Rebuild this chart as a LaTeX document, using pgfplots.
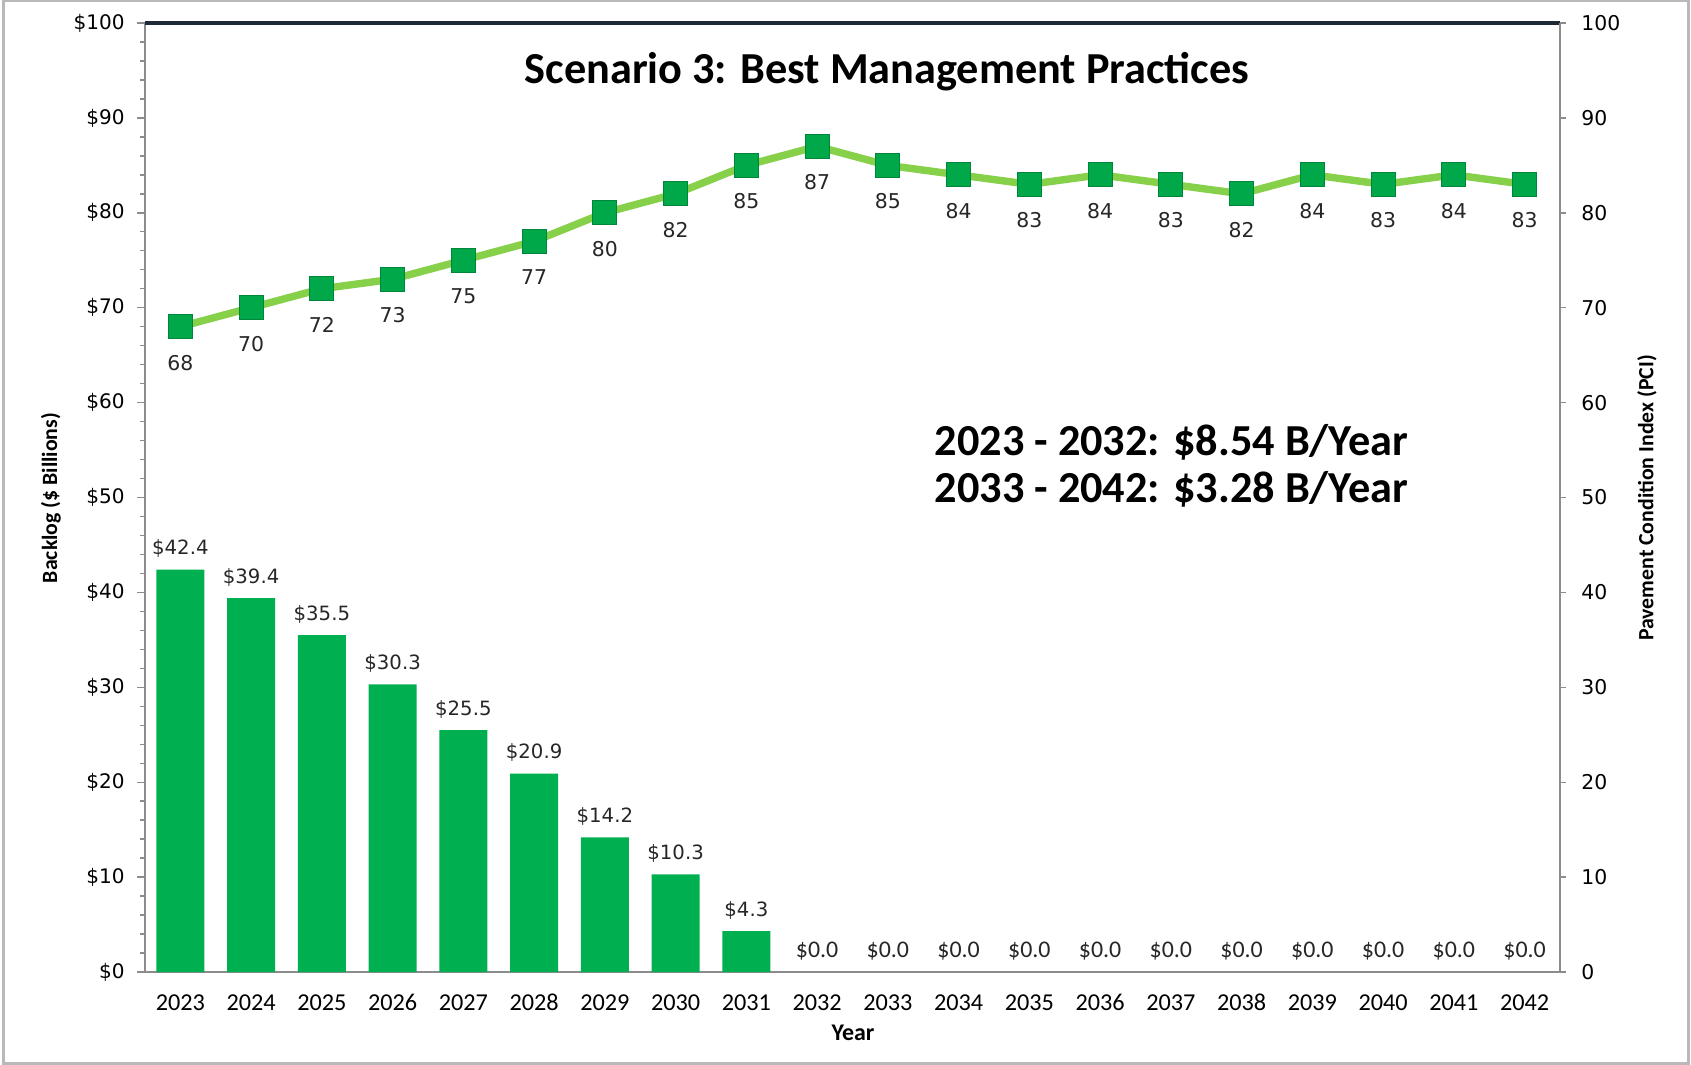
\documentclass[border=0pt]{standalone}
\usepackage{fontspec}
\setmainfont{Carlito}
\newfontfamily\dvs{DejaVu Sans}
\usepackage{pgfplots}
\pgfplotsset{compat=1.18}
\definecolor{bargreen}{HTML}{00B050}
\definecolor{markgreen}{HTML}{00A84A}
\definecolor{linegreen}{HTML}{86D04A}
\definecolor{axgray}{HTML}{8C8C8C}
\definecolor{topline}{HTML}{1E2A36}
\begin{document}
\begin{tikzpicture}
\path[use as bounding box] (0,0) rectangle (169.1mm,-106.5mm);
\draw[gray!55, line width=0.6pt] (0.35mm,-0.1mm) rectangle (168.85mm,-106.35mm);

% Backlog bars (left axis)
\begin{axis}[
  at={(14.5mm,-97.2mm)}, anchor=south west,
  scale only axis, width=141.5mm, height=94.9mm,
  xmin=-0.5, xmax=19.5, ymin=0, ymax=100,
  axis x line*=bottom, axis y line*=left,
  axis line style={draw=axgray, line width=0.6pt, -},
  xtick={0,...,19},
  xticklabels={2023,2024,2025,2026,2027,2028,2029,2030,2031,2032,2033,2034,2035,2036,2037,2038,2039,2040,2041,2042},
  x tick style={draw=none},
  xticklabel style={font=\fontsize{6.9pt}{7pt}\selectfont, text height=4.6pt, text depth=0pt, yshift=-0.15mm},
  ytick={0,10,...,100}, minor ytick={0,2,...,100},
  tick align=outside,
  major tick length=0.8mm, minor tick length=0.5mm,
  y tick style={draw=axgray, line width=0.4pt},
  yticklabel={\$\pgfmathprintnumber{\tick}},
  yticklabel style={font=\fontsize{5.7pt}{6pt}\selectfont\dvs, xshift=0mm},
  /pgf/number format/assume math mode=true,
  clip=false,
]
\addplot[ybar, bar width=0.68, fill=bargreen, draw=none,
  nodes near coords={\$\pgfmathprintnumber[fixed,fixed zerofill,precision=1]{\pgfplotspointmeta}},
  every node near coord/.style={font=\fontsize{5.6pt}{6pt}\selectfont\dvs, text=black!85, anchor=center, yshift=2.1mm}]
coordinates {(0,42.4) (1,39.4) (2,35.5) (3,30.3) (4,25.5) (5,20.9) (6,14.2) (7,10.3) (8,4.3)};
\addplot[draw=none, mark=none,
  nodes near coords={\$\pgfmathprintnumber[fixed,fixed zerofill,precision=1]{\pgfplotspointmeta}},
  every node near coord/.style={font=\fontsize{6.8pt}{7pt}\selectfont, text=black!85, anchor=center, yshift=2.1mm}]
coordinates {(9,0) (10,0) (11,0) (12,0) (13,0) (14,0) (15,0) (16,0) (17,0) (18,0) (19,0)};
\end{axis}

% PCI line (right axis)
\begin{axis}[
  at={(14.5mm,-97.2mm)}, anchor=south west,
  scale only axis, width=141.5mm, height=94.9mm,
  xmin=-0.5, xmax=19.5, ymin=0, ymax=100,
  axis x line*=top, axis y line*=right,
  x axis line style={draw=topline, line width=0.9pt, -},
  y axis line style={draw=axgray, line width=0.6pt, -},
  xtick=\empty,
  ytick={0,10,...,100},
  tick align=outside, major tick length=0.6mm,
  y tick style={draw=axgray, line width=0.4pt},
  yticklabel style={font=\fontsize{5.8pt}{6pt}\selectfont\dvs, xshift=0.3mm},
  /pgf/number format/assume math mode=true,
  clip=false,
]
\addplot[linegreen, line width=2.1pt, mark=square*, mark size=1.2mm,
  mark options={fill=markgreen, draw=markgreen!80!black, line width=0.3pt},
  nodes near coords,
  every node near coord/.style={font=\fontsize{5.8pt}{6pt}\selectfont\dvs, text=black!85, anchor=center, yshift=-3.6mm}]
coordinates {(0,68) (1,70) (2,72) (3,73) (4,75) (5,77) (6,80) (7,82) (8,85) (9,87)
 (10,85) (11,84) (12,83) (13,84) (14,83) (15,82) (16,84) (17,83) (18,84) (19,83)};
\end{axis}

\node[font=\fontsize{6.2pt}{7pt}\selectfont\bfseries, rotate=90] at (5.1mm,-49.8mm) {Backlog (\$ Billions)};
\node[font=\fontsize{6.2pt}{7pt}\selectfont\bfseries, rotate=90] at (164.7mm,-49.8mm) {Pavement Condition Index (PCI)};
\node[font=\fontsize{6.8pt}{7pt}\selectfont\bfseries] at (85.3mm,-103.3mm) {Year};
\node[font=\fontsize{12.6pt}{14pt}\selectfont\bfseries] at (88.7mm,-7.2mm) {Scenario 3: Best Management Practices};
\node[font=\fontsize{12.6pt}{15pt}\selectfont\bfseries, anchor=west, inner sep=0pt] at (93.4mm,-44.2mm) {2023 - 2032: \$8.54 B/Year};
\node[font=\fontsize{12.6pt}{15pt}\selectfont\bfseries, anchor=west, inner sep=0pt] at (93.4mm,-48.9mm) {2033 - 2042: \$3.28 B/Year};
\end{tikzpicture}
\end{document}
